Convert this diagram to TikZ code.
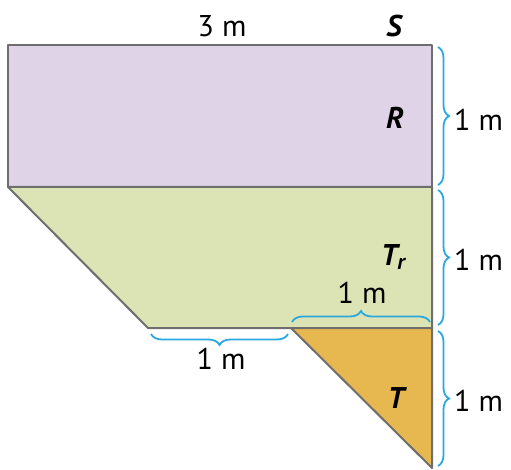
\documentclass[tikz,border=0pt]{standalone}
\usepackage{fontspec}
\setmainfont{PT Sans}
\usetikzlibrary{decorations.pathreplacing}
\definecolor{rcol}{HTML}{DFD4E7}
\definecolor{gcol}{HTML}{DCE3B5}
\definecolor{ocol}{HTML}{E8B850}
\definecolor{edge}{HTML}{6E6E6E}
\definecolor{brc}{HTML}{2AA8E0}
\begin{document}
\begin{tikzpicture}[x=1pt,y=-1pt,
  region/.style={draw=edge,line width=2pt,line join=round},
  br/.style={draw=brc,line width=1.8pt,decorate,decoration={brace,amplitude=11pt}},
  lbl/.style={font=\fontsize{30}{30}\selectfont,inner sep=0pt},
  vname/.style={font=\fontsize{30}{30}\selectfont\bfseries\itshape,inner sep=0pt}]
\useasboundingbox (0,0) rectangle (511,470);
% shapes
\draw[region,fill=rcol] (8,45) rectangle (432,187);
\draw[region,fill=gcol] (8,187) -- (432,187) -- (432,328) -- (148,328) -- cycle;
\draw[region,fill=ocol] (291,328) -- (432,328) -- (432,468) -- cycle;
% braces
\draw[br] (438,47) -- (438,185);
\draw[br] (438,190) -- (438,325);
\draw[br] (438,331) -- (438,466);
\draw[br] (292,322) -- (430,322);
\draw[br] (288,334) -- (151,334);
% labels
\node[lbl] (d3) at (222,26) {3 m};
\node[vname] (s) at (394,26) {S};
\node[vname] (r) at (395,118) {R};
\node[vname] (tr) at (393,257) {T\raisebox{-0.3ex}{\fontsize{22}{22}\selectfont r}};
\node[vname] (t) at (396,398) {T};
\node[lbl,anchor=west] (d1) at (454,120) {1 m};
\node[lbl,anchor=west] (d2) at (454,260) {1 m};
\node[lbl,anchor=west] (d3r) at (454,401) {1 m};
\node[lbl] (dt) at (362,293) {1 m};
\node[lbl] (db) at (221,359) {1 m};
\end{tikzpicture}
\end{document}
